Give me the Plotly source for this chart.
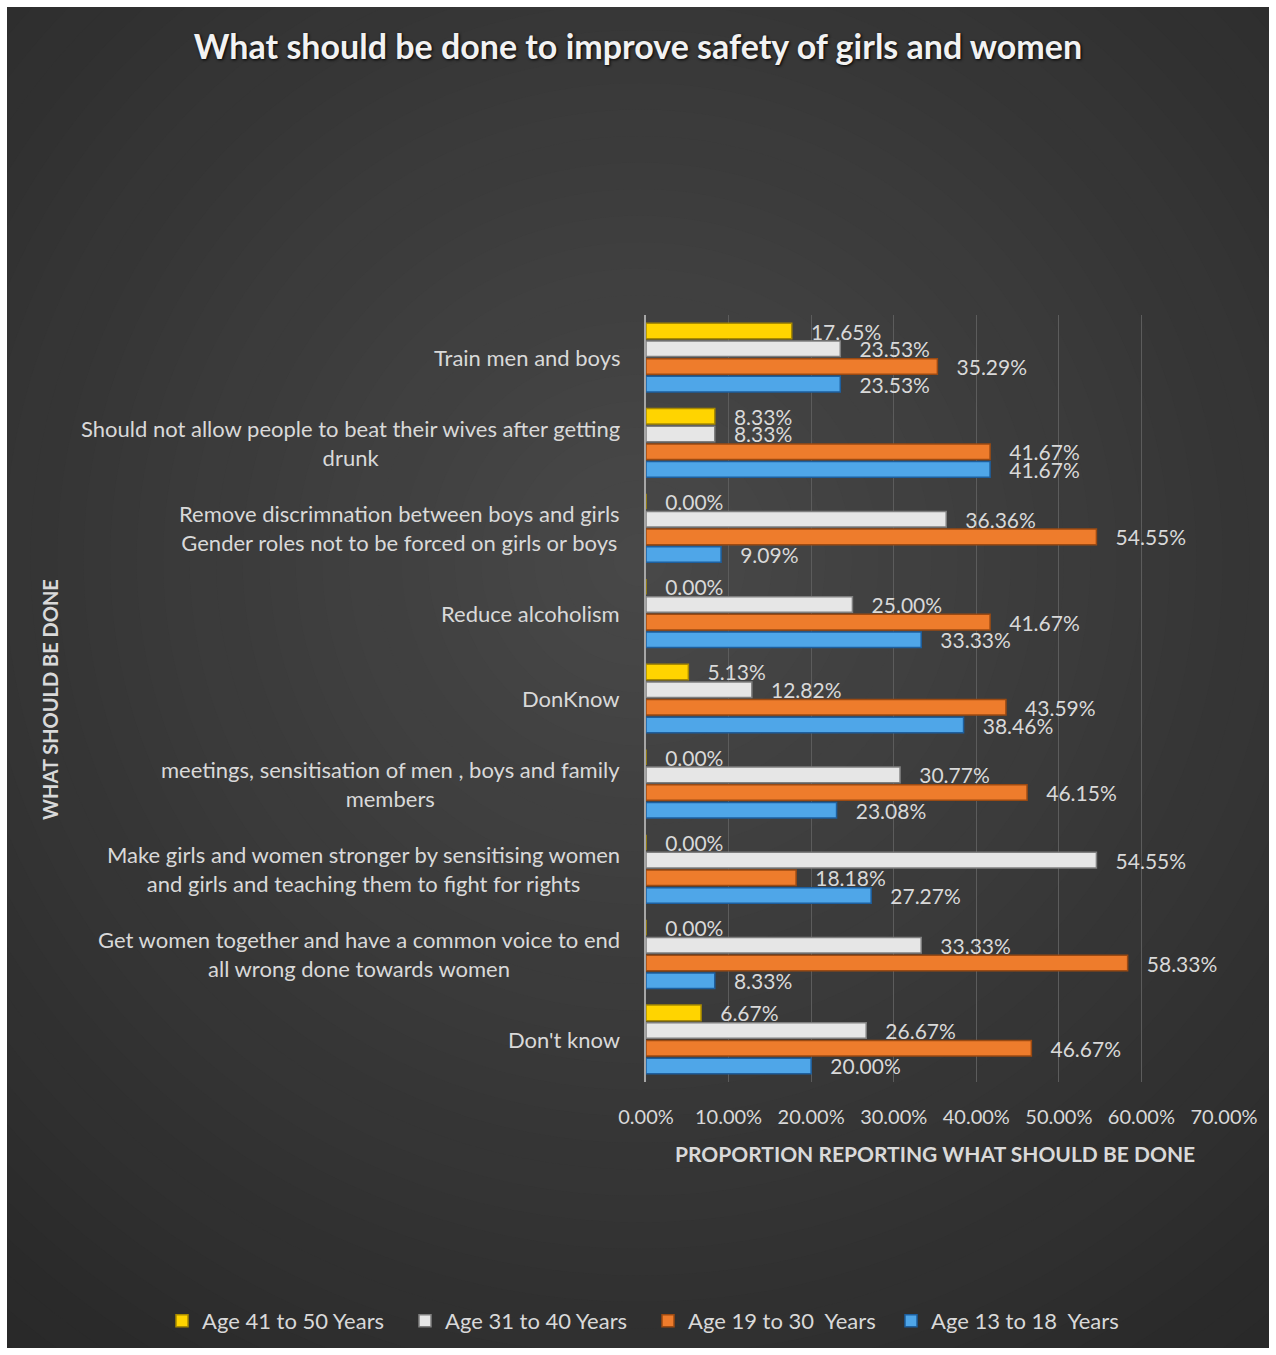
import plotly.graph_objects as go

# Categories listed bottom-to-top (Plotly draws first category at the bottom)
categories = [
    "Don't know",
    "Get women together and have a common voice to end<br>all wrong done towards women",
    "Make girls and women stronger by sensitising women<br>and girls and teaching them to fight for rights",
    "meetings, sensitisation of men , boys and family<br>members",
    "DonKnow",
    "Reduce alcoholism",
    "Remove discrimnation between boys and girls<br>Gender roles not to be forced on girls or boys",
    "Should not allow people to beat their wives after getting<br>drunk",
    "Train men and boys",
]
age_13_18 = [20.00, 8.33, 27.27, 23.08, 38.46, 33.33, 9.09, 41.67, 23.53]
age_19_30 = [46.67, 58.33, 18.18, 46.15, 43.59, 41.67, 54.55, 41.67, 35.29]
age_31_40 = [26.67, 33.33, 54.55, 30.77, 12.82, 25.00, 36.36, 8.33, 23.53]
age_41_50 = [6.67, 0.00, 0.00, 0.00, 5.13, 0.00, 0.00, 8.33, 17.65]

series = [
    ("Age 13 to 18  Years", age_13_18, "#4fa6e8", "#1d5f9e"),
    ("Age 19 to 30  Years", age_19_30, "#ee7c2c", "#9c4a12"),
    ("Age 31 to 40 Years", age_31_40, "#e6e6e6", "#7f7f7f"),
    ("Age 41 to 50 Years", age_41_50, "#ffd400", "#a88a00"),
]

W, H = 1276, 1355
L, R, T, B = 646, 52, 315, 273
PW, PH = W - L - R, H - T - B
FONT = "Lato"
TXT = "#d9d9d9"
PAD = "\u00a0\u00a0\u00a0"


def px_x(p):
    return (p - L) / PW


def px_y(p):
    return (H - B - p) / PH


fig = go.Figure()
for name, vals, col, edge in series:
    fig.add_trace(go.Bar(
        y=categories, x=vals, name=name, orientation="h",
        marker=dict(color=col, line=dict(color=edge, width=1.5)),
        text=[f"{PAD}{v:.2f}%" for v in vals], textposition="outside",
        textfont=dict(family=FONT, size=21, color=TXT),
        cliponaxis=False, constraintext="none",
    ))

shapes = []
# radial gradient background approximation (opaque concentric discs)
cx, cy = 640, 560
rmax = 1060
steps = 40
for i in range(steps):
    r = rmax * (1 - i / steps)
    t = 1 - r / rmax
    g = int(round(39 + 34 * t))
    shapes.append(dict(type="circle", xref="paper", yref="paper", layer="below",
                       x0=px_x(cx - r), x1=px_x(cx + r), y0=px_y(cy + r), y1=px_y(cy - r),
                       fillcolor=f"rgb({g},{g},{g})", line=dict(width=0)))
# white outer border
shapes.append(dict(type="rect", xref="paper", yref="paper", layer="below",
                   x0=px_x(0), x1=px_x(W), y0=px_y(H), y1=px_y(0),
                   fillcolor="rgba(0,0,0,0)", line=dict(color="white", width=14)))

annotations = []
for c in categories:
    annotations.append(dict(x=px_x(622), y=c, xref="paper", yref="y", text=c,
                            xanchor="right", yanchor="middle", align="center",
                            showarrow=False, font=dict(family=FONT, size=22, color=TXT)))
annotations.append(dict(x=px_x(50), y=px_y(700), xref="paper", yref="paper",
                        text="<b>WHAT SHOULD BE DONE</b>", textangle=-90, showarrow=False,
                        xanchor="center", yanchor="middle",
                        font=dict(family=FONT, size=20, color=TXT)))
annotations.append(dict(x=px_x(935), y=px_y(1153), xref="paper", yref="paper",
                        text="<b>PROPORTION REPORTING WHAT SHOULD BE DONE</b>", showarrow=False,
                        xanchor="center", yanchor="middle",
                        font=dict(family=FONT, size=21, color=TXT)))

fig.update_layout(
    width=W, height=H,
    margin=dict(l=L, r=R, t=T, b=B, autoexpand=False),
    paper_bgcolor="#272727", plot_bgcolor="rgba(0,0,0,0)",
    barmode="group", bargap=0.17, bargroupgap=0.12,
    title=dict(text="<b>What should be done to improve safety of girls and women</b>",
               x=0.5, xanchor="center", y=1 - 47 / H, yanchor="middle", yref="container",
               font=dict(family=FONT, size=34, color="#f2f2f2", shadow="1px 1px 3px #000")),
    xaxis=dict(range=[0, 70], dtick=10, tickformat=".2f", ticksuffix="%",
               showgrid=True, gridcolor="#5c5c5c", gridwidth=1, zeroline=False,
               showline=False, ticks="", ticklabelstandoff=21,
               tickfont=dict(family=FONT, size=20, color=TXT), fixedrange=True),
    yaxis=dict(showticklabels=False, showgrid=False, zeroline=False,
               showline=True, linecolor="#a6a6a6", linewidth=2, ticks=""),
    legend=dict(orientation="h", traceorder="reversed", x=px_x(162), y=px_y(1321),
                xanchor="left", yanchor="middle", itemclick=False,
                entrywidth=198, entrywidthmode="pixels",
                font=dict(family=FONT, size=22, color=TXT), bgcolor="rgba(0,0,0,0)"),
    shapes=shapes, annotations=annotations, showlegend=True,
)

fig.write_html("out.html")
